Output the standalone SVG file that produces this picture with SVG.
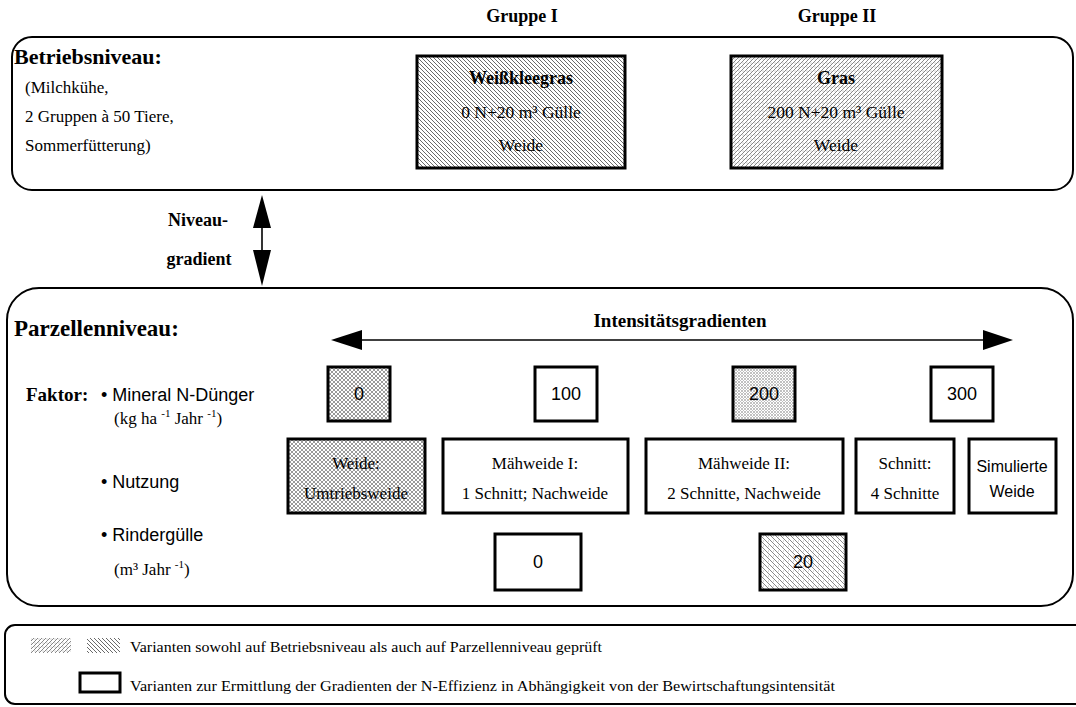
<svg xmlns="http://www.w3.org/2000/svg" width="1076" height="707" viewBox="0 0 1076 707">
<style>
.serif{font-family:"Liberation Serif","Times New Roman",serif;fill:#000}
.sans{font-family:"Liberation Sans",Arial,sans-serif;fill:#000}
.b{font-weight:bold}
.m{text-anchor:middle}
.panel{fill:none;stroke:#000;stroke-width:2}
.box{stroke:#000;stroke-width:3}
.wb{fill:#fff}
.shaft{stroke:#000;stroke-width:1.6;fill:none}
.head{fill:#000;stroke:none}
</style>
<defs>
  <pattern id="pBack" width="4" height="4" patternUnits="userSpaceOnUse">
    <rect width="4" height="4" fill="#fff"/>
    <path d="M-1,-1 L5,5 M-1,3 L1,5 M3,-1 L5,1" stroke="#444" stroke-width="0.8"/>
  </pattern>
  <pattern id="pFwd" width="4" height="4" patternUnits="userSpaceOnUse">
    <rect width="4" height="4" fill="#fff"/>
    <path d="M-1,5 L5,-1 M-1,1 L1,-1 M3,5 L5,3" stroke="#555" stroke-width="0.7"/>
    <circle cx="3" cy="3" r="0.45" fill="#555"/>
  </pattern>
  <pattern id="pCross" width="4" height="4" patternUnits="userSpaceOnUse">
    <rect width="4" height="4" fill="#fff"/>
    <path d="M-1,-1 L5,5 M-1,5 L5,-1" stroke="#555" stroke-width="0.6"/>
  </pattern>
  <pattern id="pDots" width="3" height="3" patternUnits="userSpaceOnUse">
    <rect width="3" height="3" fill="#fff"/>
    <circle cx="1" cy="1" r="0.7" fill="#555"/>
    <circle cx="2.5" cy="2.5" r="0.45" fill="#777"/>
  </pattern>
  <pattern id="pMix" width="5" height="5" patternUnits="userSpaceOnUse">
    <rect width="5" height="5" fill="#fff"/>
    <path d="M-1,-1 L6,6 M-1,4 L1,6 M4,-1 L6,1" stroke="#555" stroke-width="0.7"/>
    <circle cx="3.5" cy="1" r="0.45" fill="#666"/>
  </pattern>
</defs>

<!-- panels -->
<g id="panel-betrieb">
  <rect class="panel" x="12" y="37" width="1061" height="153" rx="20"/>
  <text class="serif b" x="14" y="64" font-size="22">Betriebsniveau:</text>
  <text class="serif" x="25" y="93" font-size="17">(Milchkühe,</text>
  <text class="serif" x="25" y="122" font-size="17">2 Gruppen à 50 Tiere,</text>
  <text class="serif" x="25" y="151" font-size="17">Sommerfütterung)</text>
</g>
<g id="header-gruppen">
  <text class="serif b m" x="522" y="22" font-size="18">Gruppe I</text>
  <text class="serif b m" x="837" y="22" font-size="18">Gruppe II</text>
</g>
<g id="node-weissklee">
  <rect class="box" x="417" y="56" width="208" height="112" fill="url(#pBack)"/>
  <text class="serif b m" x="521" y="84" font-size="18">Weißkleegras</text>
  <text class="serif m" x="521" y="118" font-size="17.5">0 N+20 m³ Gülle</text>
  <text class="serif m" x="521" y="151" font-size="17.5">Weide</text>
</g>
<g id="node-gras">
  <rect class="box" x="731" y="56" width="211" height="112" fill="url(#pFwd)"/>
  <text class="serif b m" x="836" y="84" font-size="18">Gras</text>
  <text class="serif m" x="836" y="118" font-size="17.5">200 N+20 m³ Gülle</text>
  <text class="serif m" x="836" y="151" font-size="17.5">Weide</text>
</g>

<g id="label-niveau">
  <text class="serif b m" x="198" y="226" font-size="18">Niveau-</text>
  <text class="serif b m" x="199" y="265" font-size="18">gradient</text>
</g>

<g id="panel-parzelle">
  <rect class="panel" x="7" y="288" width="1066" height="318" rx="32"/>
  <text class="serif b" x="14" y="336" font-size="23">Parzellenniveau:</text>
  <text class="serif b m" x="680" y="327" font-size="19">Intensitätsgradienten</text>
  <text class="serif b" x="26" y="401" font-size="19">Faktor:</text>
  <text class="sans" x="101" y="401" font-size="18">• Mineral N-Dünger</text>
  <text class="serif" x="114" y="424" font-size="17">(kg ha <tspan font-size="11" dy="-7">-1</tspan><tspan dy="7"> Jahr </tspan><tspan font-size="11" dy="-7">-1</tspan><tspan dy="7">)</tspan></text>
  <text class="sans" x="101" y="488" font-size="18">• Nutzung</text>
  <text class="sans" x="101" y="541" font-size="18">• Rindergülle</text>
  <text class="serif" x="114" y="575" font-size="17">(m³ Jahr <tspan font-size="11" dy="-7">-1</tspan><tspan dy="7">)</tspan></text>
</g>

<!-- row 1: Mineral N -->
<g id="n-0">
  <rect class="box" x="328" y="367" width="62" height="54" fill="url(#pCross)"/>
  <text class="sans m" x="359" y="400" font-size="18">0</text>
</g>
<g id="n-100">
  <rect class="box wb" x="535" y="367" width="62" height="54"/>
  <text class="sans m" x="566" y="400" font-size="18">100</text>
</g>
<g id="n-200">
  <rect class="box" x="733" y="367" width="62" height="54" fill="url(#pDots)"/>
  <text class="sans m" x="764" y="400" font-size="18">200</text>
</g>
<g id="n-300">
  <rect class="box wb" x="931" y="367" width="62" height="54"/>
  <text class="sans m" x="962" y="400" font-size="18">300</text>
</g>

<!-- row 2: Nutzung -->
<g id="u-weide">
  <rect class="box" x="288" y="439" width="137" height="74" fill="url(#pCross)"/>
  <text class="serif m" x="356" y="469" font-size="17">Weide:</text>
  <text class="serif m" x="356" y="499" font-size="17">Umtriebsweide</text>
</g>
<g id="u-maehweide1">
  <rect class="box wb" x="443" y="439" width="185" height="74"/>
  <text class="serif m" x="535" y="469" font-size="17">Mähweide I:</text>
  <text class="serif m" x="535" y="499" font-size="17">1 Schnitt; Nachweide</text>
</g>
<g id="u-maehweide2">
  <rect class="box wb" x="646" y="439" width="197" height="74"/>
  <text class="serif m" x="744" y="469" font-size="17">Mähweide II:</text>
  <text class="serif m" x="744" y="499" font-size="17">2 Schnitte, Nachweide</text>
</g>
<g id="u-schnitt">
  <rect class="box wb" x="856" y="439" width="98" height="74"/>
  <text class="serif m" x="905" y="469" font-size="17">Schnitt:</text>
  <text class="serif m" x="905" y="499" font-size="17">4 Schnitte</text>
</g>
<g id="u-simuliert">
  <rect class="box wb" x="969" y="439" width="87" height="74"/>
  <text class="sans m" x="1012" y="472" font-size="16">Simulierte</text>
  <text class="sans m" x="1012" y="497" font-size="16">Weide</text>
</g>

<!-- row 3: Rindergülle -->
<g id="g-0">
  <rect class="box wb" x="495" y="534" width="86" height="56"/>
  <text class="sans m" x="538" y="568" font-size="18">0</text>
</g>
<g id="g-20">
  <rect class="box" x="760" y="534" width="86" height="56" fill="url(#pMix)"/>
  <text class="sans m" x="803" y="568" font-size="18">20</text>
</g>

<!-- connectors -->
<g id="connectors">
  <line class="shaft" x1="262" y1="224" x2="262" y2="252"/>
  <polygon class="head" points="262,195 253,228 271,228"/>
  <polygon class="head" points="262,286 253,250 271,250"/>
  <line class="shaft" x1="358" y1="340" x2="986" y2="340"/>
  <polygon class="head" points="331,340 362,330 362,350"/>
  <polygon class="head" points="1013,340 983,330 983,350"/>
</g>

<!-- legend -->
<g id="legend">
  <rect class="panel" x="5" y="625" width="1090" height="79" rx="10"/>
  <rect x="31" y="638" width="40" height="15" fill="url(#pFwd)"/>
  <rect x="87" y="638" width="33" height="15" fill="url(#pBack)"/>
  <text class="serif" x="130" y="652" font-size="14.5" textLength="472" lengthAdjust="spacingAndGlyphs">Varianten sowohl auf Betriebsniveau als auch auf Parzellenniveau geprüft</text>
  <rect class="box wb" x="80" y="673" width="40" height="19"/>
  <text class="serif" x="130" y="691" font-size="14.5" textLength="705" lengthAdjust="spacingAndGlyphs">Varianten zur Ermittlung der Gradienten der N-Effizienz in Abhängigkeit von der Bewirtschaftungsintensität</text>
</g>
</svg>
